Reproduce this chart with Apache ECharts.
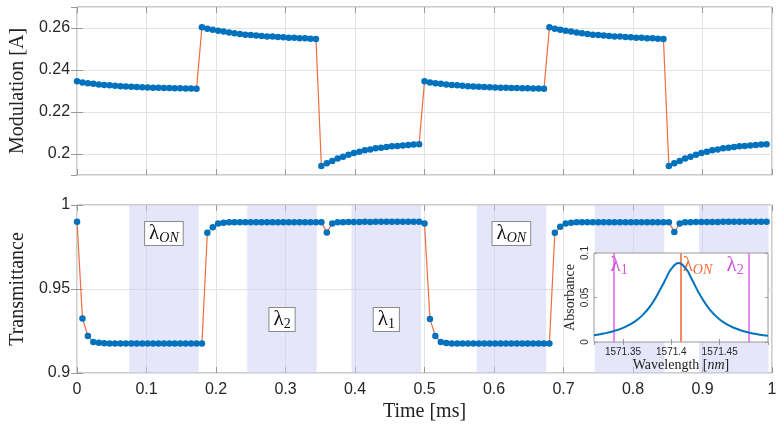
<!DOCTYPE html>
<html>
<head>
<meta charset="utf-8">
<script src="https://cdn.jsdelivr.net/npm/echarts@6/dist/echarts.min.js"></script>
<style>
  html, body { margin: 0; padding: 0; background: #fff; }
  #chart { width: 784px; height: 428px; }
</style>
</head>
<body>
<div id="chart"></div>
<script>
// sample times [ms] (one sample every ~0.0078 ms)
const times = [
  0, 0.0078, 0.0156, 0.0234, 0.0313, 0.0391, 0.0469, 0.0547, 0.0625, 0.0703, 0.0781, 0.0859, 0.0938, 0.1016, 0.1094, 0.1172,
  0.125, 0.1328, 0.1406, 0.1484, 0.1563, 0.1641, 0.1719, 0.1797, 0.1875, 0.1953, 0.2031, 0.2109, 0.2188, 0.2266, 0.2344, 0.2422,
  0.25, 0.2578, 0.2656, 0.2734, 0.2813, 0.2891, 0.2969, 0.3047, 0.3125, 0.3203, 0.3281, 0.3359, 0.3438, 0.3516, 0.3594, 0.3672,
  0.375, 0.3828, 0.3906, 0.3984, 0.4063, 0.4141, 0.4219, 0.4297, 0.4375, 0.4453, 0.4531, 0.4609, 0.4688, 0.4766, 0.4844, 0.4922,
  0.5, 0.5078, 0.5156, 0.5234, 0.5313, 0.5391, 0.5469, 0.5547, 0.5625, 0.5703, 0.5781, 0.5859, 0.5938, 0.6016, 0.6094, 0.6172,
  0.625, 0.6328, 0.6406, 0.6484, 0.6563, 0.6641, 0.6719, 0.6797, 0.6875, 0.6953, 0.7031, 0.7109, 0.7188, 0.7266, 0.7344, 0.7422,
  0.75, 0.7578, 0.7656, 0.7734, 0.7813, 0.7891, 0.7969, 0.8047, 0.8125, 0.8203, 0.8281, 0.8359, 0.8438, 0.8516, 0.8594, 0.8672,
  0.875, 0.8828, 0.8906, 0.8984, 0.9063, 0.9141, 0.9219, 0.9297, 0.9375, 0.9453, 0.9531, 0.9609, 0.9688, 0.9766, 0.9844, 0.9922
]
// modulation current [A]
const modulation = [
  0.2347, 0.2341, 0.2337, 0.2334, 0.2331, 0.2329, 0.2327, 0.2325, 0.2323, 0.2322, 0.2320, 0.2319, 0.2318, 0.2317, 0.2316, 0.2315,
  0.2314, 0.2314, 0.2313, 0.2313, 0.2312, 0.2312, 0.2311,
  0.2603, 0.2597, 0.2592, 0.2587, 0.2583, 0.2578, 0.2575, 0.2572, 0.2568, 0.2567, 0.2564, 0.2562, 0.2560, 0.2559, 0.2557, 0.2556,
  0.2554, 0.2553, 0.2551, 0.2551, 0.2549, 0.2548,
  0.1943, 0.1956, 0.1967, 0.1978, 0.1987, 0.1997, 0.2005, 0.2011, 0.2018, 0.2022, 0.2027, 0.2030, 0.2033, 0.2037, 0.2038, 0.2041,
  0.2043, 0.2045, 0.2046,
  0.2347, 0.2341, 0.2337, 0.2334, 0.2331, 0.2329, 0.2327, 0.2325, 0.2323, 0.2322, 0.2320, 0.2319, 0.2318, 0.2317, 0.2316, 0.2315,
  0.2314, 0.2314, 0.2313, 0.2313, 0.2312, 0.2312, 0.2311,
  0.2603, 0.2597, 0.2592, 0.2587, 0.2583, 0.2578, 0.2575, 0.2572, 0.2568, 0.2567, 0.2564, 0.2562, 0.2560, 0.2559, 0.2557, 0.2556,
  0.2554, 0.2553, 0.2551, 0.2551, 0.2549, 0.2548,
  0.1943, 0.1956, 0.1967, 0.1978, 0.1987, 0.1997, 0.2005, 0.2011, 0.2018, 0.2022, 0.2027, 0.2030, 0.2033, 0.2037, 0.2038, 0.2041,
  0.2043, 0.2045, 0.2046
]
// transmittance
const transmittance = [
  0.9900, 0.9325, 0.9220, 0.9185, 0.9180, 0.9177, 0.9176, 0.9176, 0.9175, 0.9175, 0.9175, 0.9175, 0.9175, 0.9175, 0.9175, 0.9175,
  0.9175, 0.9175, 0.9175, 0.9175, 0.9175, 0.9175, 0.9175, 0.9175,
  0.9835, 0.9868, 0.9890, 0.9895, 0.9897, 0.9897, 0.9898, 0.9898, 0.9898, 0.9898, 0.9898, 0.9898, 0.9898, 0.9898, 0.9898, 0.9898,
  0.9898, 0.9898, 0.9898, 0.9898, 0.9898, 0.9898,
  0.9837, 0.9890, 0.9897, 0.9898, 0.9899, 0.9899, 0.9899, 0.9900, 0.9899, 0.9900, 0.9900, 0.9900, 0.9900, 0.9900, 0.9900, 0.9900,
  0.9900, 0.9900,
  0.9890, 0.9322, 0.9220, 0.9185, 0.9178, 0.9176, 0.9175, 0.9175, 0.9175, 0.9175, 0.9175, 0.9175, 0.9175, 0.9175, 0.9175, 0.9175,
  0.9175, 0.9175, 0.9175, 0.9175, 0.9175, 0.9175, 0.9175, 0.9175,
  0.9835, 0.9870, 0.9890, 0.9895, 0.9897, 0.9898, 0.9898, 0.9898, 0.9898, 0.9898, 0.9898, 0.9898, 0.9898, 0.9898, 0.9898, 0.9898,
  0.9898, 0.9898, 0.9898, 0.9898, 0.9898, 0.9898,
  0.9840, 0.9890, 0.9897, 0.9898, 0.9899, 0.9899, 0.9899, 0.9899, 0.9899, 0.9900, 0.9900, 0.9900, 0.9900, 0.9900, 0.9900, 0.9900,
  0.9900, 0.9900
]
// laser wavelength windows [ms] and their labels
const bandStarts = [0.075, 0.245, 0.395, 0.575, 0.745, 0.895]
const bandEnds = [0.175, 0.345, 0.495, 0.675, 0.845, 0.995]
const bandLabels = ['{l|λ}{i|ON}', '{l|λ}{n|2}', '{l|λ}{n|1}', '{l|λ}{i|ON}', '', '']
const bandLabelRow = ['top', 'low', 'low', 'top', '', '']
// inset: absorbance line
const wavelengths = [1571.32, 1571.33, 1571.34, 1571.35, 1571.36, 1571.37, 1571.38, 1571.39, 1571.395, 1571.40, 1571.4076,
  1571.415, 1571.42, 1571.43, 1571.44, 1571.45, 1571.46, 1571.47, 1571.48, 1571.49, 1571.50]
const absorbance = [0.0076, 0.0095, 0.0121, 0.0158, 0.0214, 0.0299, 0.0431, 0.0620, 0.0726, 0.0821, 0.0887,
  0.0824, 0.0731, 0.0522, 0.0361, 0.0253, 0.0184, 0.0138, 0.0107, 0.0085, 0.0069]
const lambda1 = 1571.335
const lambdaOn = 1571.4076
const lambda2 = 1571.479

const myChart = echarts.init(document.getElementById('chart'))

const sans = 'Liberation Sans'
const serif = 'Liberation Serif'
const boxColor = '#9a9a9a'
const gridColor = '#e2e2e2'
const markerBlue = '#0072BD'
const lineOrange = '#f26d3d'
const violet = '#e36cec'
const violetText = '#d050dc'
const orangeText = '#f06a36'

const mainRich = {
  l: { fontFamily: serif, fontSize: 21, color: '#111' },
  i: { fontFamily: serif, fontStyle: 'italic', fontSize: 14, color: '#111', padding: [9, 0, 0, 0] },
  n: { fontFamily: serif, fontSize: 14, color: '#111', padding: [9, 0, 0, 0] }
}
const insetRich = (c) => ({
  l: { fontFamily: serif, fontSize: 21, color: c },
  i: { fontFamily: serif, fontStyle: 'italic', fontSize: 14, color: c, padding: [9, 0, 0, 0] },
  n: { fontFamily: serif, fontSize: 14, color: c, padding: [9, 0, 0, 0] }
})

// mirror axis (top / right) only for the inward ticks of the box
const mirrorX = (gridIndex, extra) => Object.assign({
  type: 'value', gridIndex, position: 'top', min: 0, max: 1, interval: 0.1,
  axisLine: { show: false }, axisLabel: { show: false }, splitLine: { show: false },
  axisTick: { show: true, inside: true, length: 6, lineStyle: { color: boxColor } }
}, extra)
const mirrorY = (gridIndex, extra) => Object.assign({
  type: 'value', gridIndex, position: 'right',
  axisLine: { show: false }, axisLabel: { show: false }, splitLine: { show: false },
  axisTick: { show: true, inside: true, length: 6, lineStyle: { color: boxColor } }
}, extra)

const bandData = bandStarts.map((s, i) => {
  const label = bandLabels[i]
    ? {
        show: true,
        position: 'insideTop',
        distance: bandLabelRow[i] === 'top' ? 17 : 103,
        formatter: bandLabels[i],
        backgroundColor: '#fff',
        borderColor: '#8a8a8a',
        borderWidth: 1,
        padding: [0, 4, 0, 4],
        rich: mainRich
      }
    : { show: false }
  return [{ xAxis: s, label }, { xAxis: bandEnds[i] }]
})

const option = {
  animation: false,
  grid: [
    { left: 72, top: 7, width: 700, height: 168, show: true, borderColor: boxColor, borderWidth: 1, backgroundColor: 'transparent' },
    { left: 72, top: 205, width: 700, height: 168, show: true, borderColor: boxColor, borderWidth: 1, backgroundColor: 'transparent' },
    { left: 594, top: 253, width: 174, height: 89, show: true, borderColor: boxColor, borderWidth: 1, backgroundColor: '#fff', z: 5 }
  ],
  xAxis: [
    {
      type: 'value', gridIndex: 0, min: 0, max: 1, interval: 0.1,
      axisLine: { show: false }, axisLabel: { show: false },
      axisTick: { show: true, inside: true, length: 6, lineStyle: { color: boxColor } },
      splitLine: { show: true, lineStyle: { color: gridColor } }
    },
    mirrorX(0),
    {
      type: 'value', gridIndex: 1, min: 0, max: 1, interval: 0.1,
      axisLine: { show: false },
      axisTick: { show: true, inside: true, length: 6, lineStyle: { color: boxColor } },
      axisLabel: { color: '#262626', fontFamily: sans, fontSize: 16, margin: 9 },
      splitLine: { show: true, lineStyle: { color: gridColor } },
      name: 'Time [ms]', nameLocation: 'middle', nameGap: 29,
      nameTextStyle: { fontFamily: serif, fontSize: 20, color: '#222' }
    },
    mirrorX(1),
    {
      type: 'value', gridIndex: 2, min: 1571.32, max: 1571.5, splitNumber: 4, z: 6,
      axisLine: { show: false },
      axisTick: { show: true, inside: true, length: 3, lineStyle: { color: boxColor } },
      axisLabel: {
        color: '#262626', fontFamily: sans, fontSize: 10, margin: 5, showMinLabel: false, showMaxLabel: false,
        formatter: (v) => String(Math.round(v * 100) / 100)
      },
      splitLine: { show: false },
      name: '{r|Wavelength [}{i|nm}{r|]}', nameLocation: 'middle', nameGap: 16,
      nameTextStyle: {
        rich: {
          r: { fontFamily: serif, fontSize: 14, color: '#222' },
          i: { fontFamily: serif, fontSize: 14, fontStyle: 'italic', color: '#222' }
        }
      }
    },
    mirrorX(2, { min: 1571.32, max: 1571.5, interval: undefined, splitNumber: 4, z: 6,
      axisTick: { show: true, inside: true, length: 3, lineStyle: { color: boxColor } } })
  ],
  yAxis: [
    {
      type: 'value', gridIndex: 0, min: 0.19, max: 0.27, splitNumber: 4,
      axisLine: { show: false },
      axisTick: { show: true, inside: true, length: 6, lineStyle: { color: boxColor } },
      axisLabel: { color: '#262626', fontFamily: sans, fontSize: 16, margin: 7, showMinLabel: false, showMaxLabel: false },
      splitLine: { show: true, lineStyle: { color: gridColor } },
      name: 'Modulation [A]', nameLocation: 'middle', nameGap: 47,
      nameTextStyle: { fontFamily: serif, fontSize: 20, color: '#222' }
    },
    mirrorY(0, { min: 0.19, max: 0.27, splitNumber: 4 }),
    {
      type: 'value', gridIndex: 1, min: 0.9, max: 1, interval: 0.05,
      axisLine: { show: false },
      axisTick: { show: true, inside: true, length: 6, lineStyle: { color: boxColor } },
      axisLabel: { color: '#262626', fontFamily: sans, fontSize: 16, margin: 7 },
      splitLine: { show: true, lineStyle: { color: gridColor } },
      name: 'Transmittance', nameLocation: 'middle', nameGap: 47,
      nameTextStyle: { fontFamily: serif, fontSize: 20, color: '#222' }
    },
    mirrorY(1, { min: 0.9, max: 1, interval: 0.05 }),
    {
      type: 'value', gridIndex: 2, min: 0, max: 0.1, interval: 0.05, z: 6,
      axisLine: { show: false },
      axisTick: { show: true, inside: true, length: 3, lineStyle: { color: boxColor } },
      axisLabel: { color: '#262626', fontFamily: sans, fontSize: 10, margin: 4, rotate: 90 },
      splitLine: { show: false },
      name: 'Absorbance', nameLocation: 'middle', nameGap: 17,
      nameTextStyle: { fontFamily: serif, fontSize: 14, color: '#222' }
    },
    mirrorY(2, { min: 0, max: 0.1, interval: 0.05, z: 6,
      axisTick: { show: true, inside: true, length: 3, lineStyle: { color: boxColor } } })
  ],
  series: [
    {
      name: 'Modulation',
      type: 'line',
      xAxisIndex: 0,
      yAxisIndex: 0,
      data: times.map((t, i) => [t, modulation[i]]),
      symbol: 'circle',
      symbolSize: 6.5,
      showAllSymbol: true,
      itemStyle: { color: markerBlue },
      lineStyle: { color: lineOrange, width: 1.2 }
    },
    {
      name: 'Transmittance',
      type: 'line',
      xAxisIndex: 2,
      yAxisIndex: 2,
      data: times.map((t, i) => [t, transmittance[i]]),
      symbol: 'circle',
      symbolSize: 6.5,
      showAllSymbol: true,
      itemStyle: { color: markerBlue },
      lineStyle: { color: lineOrange, width: 1.2 },
      markArea: {
        silent: true,
        itemStyle: { color: 'rgba(205, 205, 245, 0.5)' },
        data: bandData
      }
    },
    {
      name: 'Absorbance',
      type: 'line',
      xAxisIndex: 4,
      yAxisIndex: 4,
      z: 8,
      data: wavelengths.map((w, i) => [w, absorbance[i]]),
      smooth: true,
      showSymbol: false,
      lineStyle: { color: markerBlue, width: 2 },
      markLine: {
        silent: true,
        symbol: 'none',
        label: { show: false },
        data: [
          { xAxis: lambda1, lineStyle: { color: violet, width: 1.6, type: 'solid' } },
          { xAxis: lambdaOn, lineStyle: { color: '#f78a60', width: 2, type: 'solid' } },
          { xAxis: lambda2, lineStyle: { color: violet, width: 1.6, type: 'solid' } }
        ]
      },
      markPoint: {
        silent: true,
        symbol: 'circle',
        symbolSize: 0,
        data: [
          { coord: [lambda1, 0.0856], label: { position: 'right', distance: 2, formatter: '{l|λ}{n|1}', rich: insetRich(violetText) } },
          { coord: [lambdaOn, 0.0856], label: { position: 'right', distance: 4, formatter: '{l|λ}{i|ON}', rich: insetRich(orangeText) } },
          { coord: [lambda2, 0.0856], label: { position: 'left', distance: 4, formatter: '{l|λ}{n|2}', rich: insetRich(violetText) } }
        ]
      }
    }
  ]
}

option && myChart.setOption(option)
</script>
</body>
</html>
